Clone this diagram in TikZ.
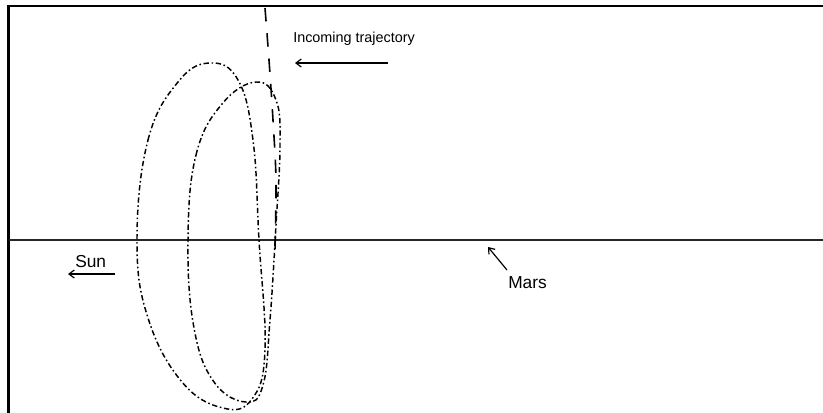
\documentclass[tikz,border=0pt]{standalone}
\usepackage{fontspec}
\setmainfont{Liberation Sans}
\usetikzlibrary{arrows.meta,positioning}

\begin{document}
\begin{tikzpicture}[x=0.75pt, y=-0.75pt,
  frame/.style={line width=2.2pt, line cap=rect},
  axis/.style={line width=1.5pt, black!85},
  orbit/.style={line width=1.1pt, dash pattern=on 4pt off 2pt on 1.2pt off 2pt},
  incoming/.style={line width=1.2pt, dash pattern=on 10pt off 9pt},
  label/.style={font=\fontsize{13}{15}\selectfont, inner sep=0pt},
  pointer/.style={->, line width=0.9pt},
  >={Straight Barb[length=4pt, width=6pt]}
]
  \useasboundingbox (0,0) rectangle (823,412);

  % frame and Sun-Mars line
  \draw[frame] (8.5,412) -- (8.5,6) -- (823,6);
  \coordinate (sunside) at (9,239.5);
  \coordinate (farside) at (823,239.5);
  \draw[axis] (sunside) -- (farside);

  % first orbit (larger)
  \draw[orbit] plot[smooth cycle, tension=0.7] coordinates {
    (137,240) (148,140) (178,82) (210,63) (238,80) (253,140) (259,240)
    (265,350) (252,399) (223,408) (182,382) (148,318)};

  % second orbit (smaller)
  \draw[orbit] plot[smooth cycle, tension=0.7] coordinates {
    (188,240) (196,155) (222,104) (256,82) (276,100) (280,145) (276,225)
    (270,320) (263,385) (246,402) (214,382) (194,328)};

  % incoming trajectory
  \draw[incoming] plot[smooth] coordinates {
    (265,8) (269,60) (273,120) (276,180) (275,250)};

  % labels
  \node[label, font=\fontsize{10.8}{12}\selectfont, anchor=base west] (incoming) at (293,42) {Incoming trajectory};
  \coordinate (incoming tail) at (388,63);
  \coordinate (incoming head) at (295,63);
  \draw[pointer] (incoming tail) -- (incoming head);

  \node[label, anchor=base west] (sun) at (75,267) {Sun};
  \coordinate (sun tail) at (115,274);
  \coordinate (sun head) at (68,274);
  \draw[pointer] (sun tail) -- (sun head);

  \node[label, anchor=base west] (mars) at (508,288) {Mars};
  \coordinate (mars tail) at (507,270);
  \coordinate (mars head) at (488,247);
  \draw[pointer] (mars tail) -- (mars head);
\end{tikzpicture}
\end{document}
